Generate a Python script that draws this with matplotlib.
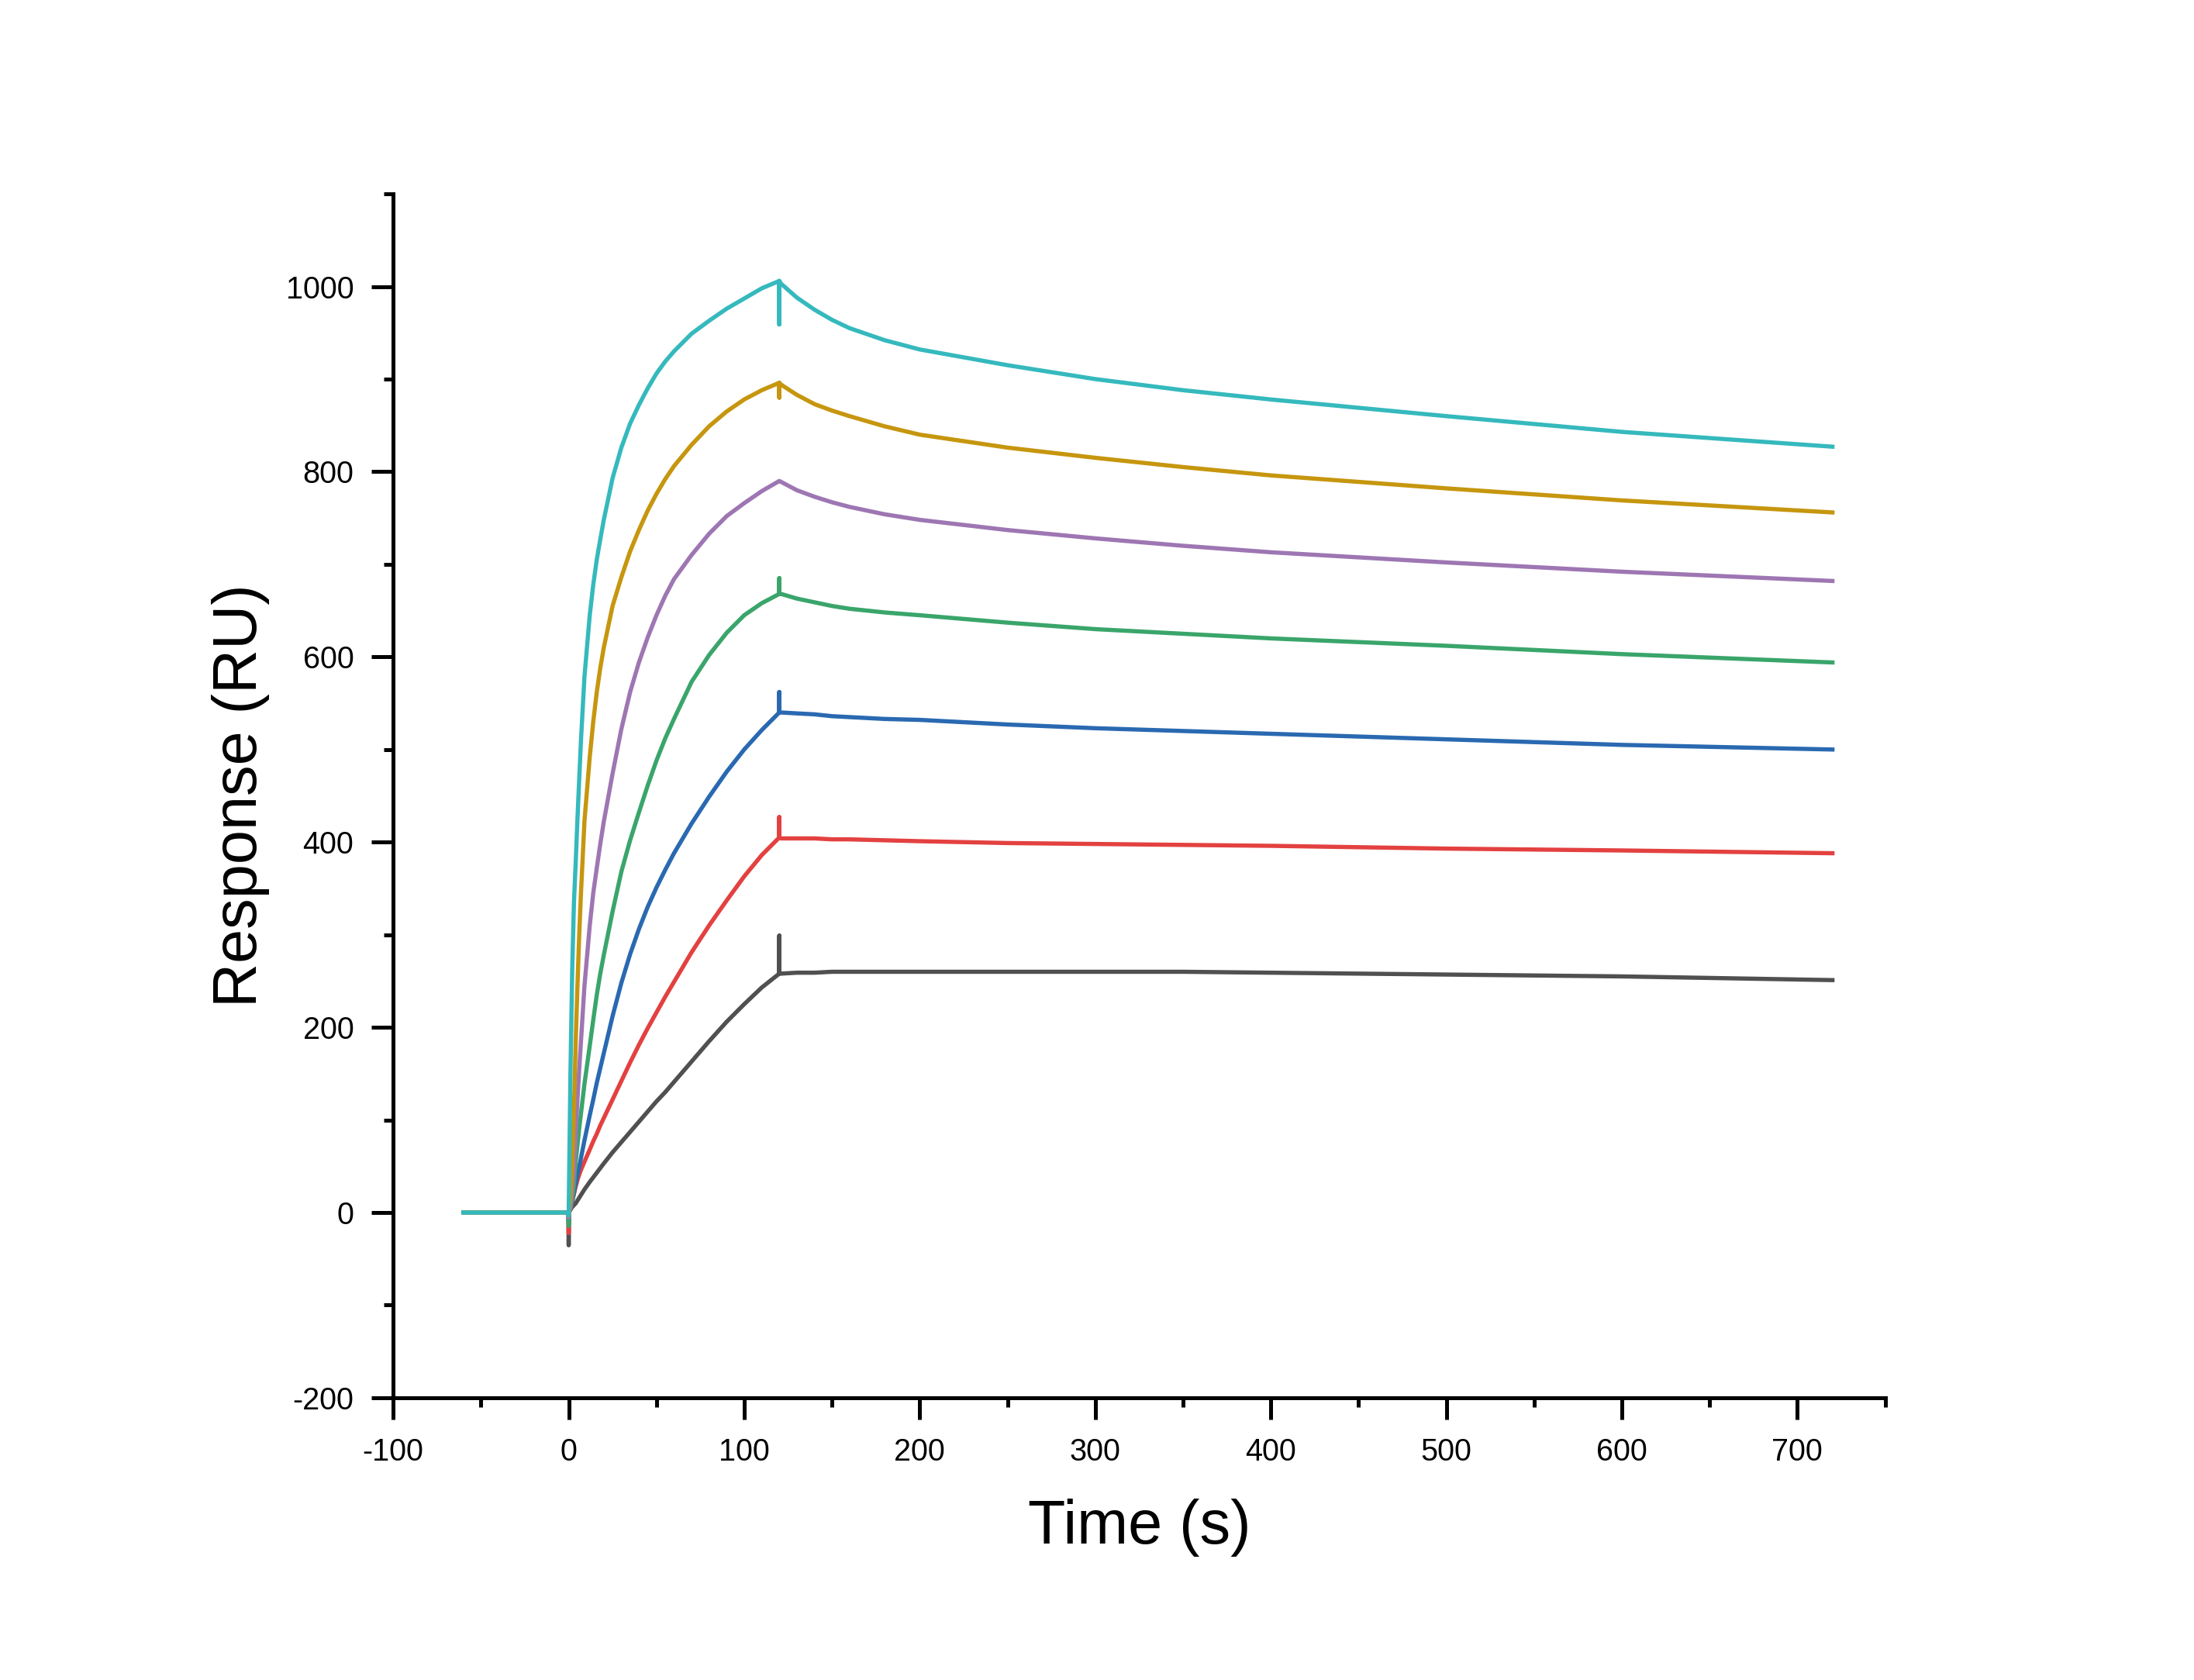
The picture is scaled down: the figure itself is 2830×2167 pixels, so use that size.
import numpy as np
import matplotlib
matplotlib.use("Agg")
import matplotlib.pyplot as plt
from matplotlib.ticker import MultipleLocator

plt.rcParams['font.family'] = ['Liberation Sans', 'DejaVu Sans']
plt.rcParams['axes.unicode_minus'] = False

# time grids (s)
baseline_t = [-60, 0]
assoc_t = [0, 1, 2, 3, 4, 5, 6, 7, 9, 12, 14, 16, 18, 20, 25, 30, 35, 40, 45, 50, 55, 60,
           70, 80, 90, 100, 110, 120]
dissoc_t = [121, 130, 140, 150, 160, 180, 200, 250, 300, 350, 400, 500, 600, 720]

# association phase responses (RU), lowest to highest concentration
gray_assoc = [0, 3, 6, 8, 10, 13, 16, 19, 25, 33, 38, 43, 48, 53, 65, 76, 87, 98, 109, 120, 130, 141,
              163, 185, 206, 225, 243, 258]
red_assoc = [0, 5, 12, 20, 28, 35, 41, 46, 55, 68, 77, 85, 94, 102, 122, 142, 162, 181, 199, 216, 233, 249,
             281, 310, 337, 363, 386, 405]
blue_assoc = [0, 5, 12, 22, 32, 41, 49, 59, 78, 105, 122, 140, 156, 172, 212, 248, 279, 306, 330, 351, 370, 388,
              420, 449, 476, 500, 521, 540]
green_assoc = [0, 5, 15, 30, 55, 73, 91, 107, 139, 180, 208, 235, 258, 278, 325, 368, 402, 432, 461, 488, 512, 533,
               573, 602, 626, 645, 658, 668]
purple_assoc = [0, 5, 25, 45, 85, 122, 155, 185, 245, 310, 345, 372, 398, 422, 474, 522, 562, 594, 621, 645, 666, 684,
                710, 733, 752, 766, 779, 790]
gold_assoc = [0, 15, 50, 110, 185, 245, 300, 345, 423, 492, 530, 562, 588, 610, 655, 686, 714, 737, 758, 776, 792, 806,
              829, 849, 865, 878, 888, 896]
cyan_assoc = [0, 150, 262, 335, 378, 425, 468, 510, 579, 645, 678, 705, 727, 748, 793, 826, 852, 872, 890, 906, 919, 930,
              949, 963, 976, 987, 998, 1006]

# dissociation phase responses (RU)
gray_dissoc = [258, 259, 259, 260, 260, 260, 260, 260, 260, 260, 259, 257, 255, 251]
red_dissoc = [404, 404, 404, 403, 403, 402, 401, 399, 398, 397, 396, 393, 391, 388]
blue_dissoc = [540, 539, 538, 536, 535, 533, 532, 527, 523, 520, 517, 511, 505, 500]
green_dissoc = [668, 663, 659, 655, 652, 648, 645, 637, 630, 625, 620, 612, 603, 594]
purple_dissoc = [789, 780, 773, 767, 762, 754, 748, 737, 728, 720, 713, 702, 692, 682]
gold_dissoc = [894, 883, 873, 866, 860, 849, 840, 826, 815, 805, 796, 782, 769, 756]
cyan_dissoc = [1003, 988, 975, 964, 955, 942, 932, 915, 900, 888, 878, 860, 843, 827]

# injection artefacts at t=0 and t=120
spike_start = [-35, -22, -10, -14, -5, -3, -3]
spike_end = [299, 427, 562, 685, 790, 880, 959]

colors = ['#505050', '#e34140', '#2a69b1', '#3aa56b', '#9e76b3', '#c6960f', '#35b9bd']
assoc = [gray_assoc, red_assoc, blue_assoc, green_assoc, purple_assoc, gold_assoc, cyan_assoc]
dissoc = [gray_dissoc, red_dissoc, blue_dissoc, green_dissoc, purple_dissoc, gold_dissoc, cyan_dissoc]

fig = plt.figure(figsize=(2830 / 300, 2167 / 300), dpi=300)
ax = fig.add_axes([0.1792, 0.168, 0.680, 0.7166])

for a, d, s0, s1, c in zip(assoc, dissoc, spike_start, spike_end, colors):
    t = baseline_t + [0] + assoc_t + [120, 120] + dissoc_t
    y = [0, 0] + [s0] + a + [s1, a[-1]] + d
    ax.plot(t, y, color=c, lw=1.3, solid_joinstyle='round')

ax.set_xlim(-100, 750)
ax.set_ylim(-200, 1100)
ax.xaxis.set_major_locator(MultipleLocator(100))
ax.xaxis.set_minor_locator(MultipleLocator(50))
ax.yaxis.set_major_locator(MultipleLocator(200))
ax.yaxis.set_minor_locator(MultipleLocator(100))

for side in ['top', 'right']:
    ax.spines[side].set_visible(False)
for side in ['left', 'bottom']:
    ax.spines[side].set_linewidth(1.2)

ax.tick_params(which='major', direction='out', length=6.7, width=1.2, labelsize=9.5, pad=5.5)
ax.tick_params(which='minor', direction='out', length=2.9, width=1.2)

ax.set_xlabel('Time (s)', fontsize=19, labelpad=10)
ax.set_ylabel('Response (RU)', fontsize=19, labelpad=5)

fig.savefig('out.png', dpi=300)
